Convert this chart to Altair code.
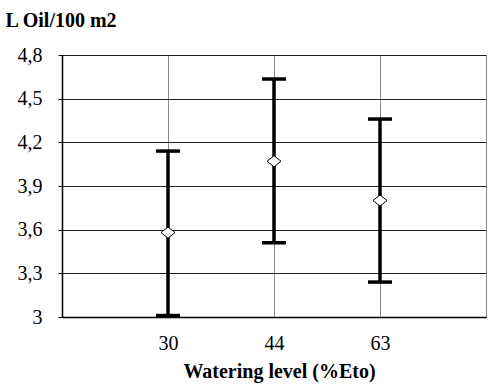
import altair as alt
import pandas as pd

levels = ["30", "44", "63"]
means = [3.58, 4.07, 3.80]
lows = [3.01, 3.51, 3.24]
highs = [4.14, 4.635, 4.36]
y_ticks = [3.0, 3.3, 3.6, 3.9, 4.2, 4.5, 4.8]

df = pd.DataFrame({
    "pos": list(range(1, len(levels) + 1)),
    "level": levels,
    "mean": means,
    "low": lows,
    "high": highs,
})

label_expr = "".join(
    f"datum.value == {i + 1} ? '{lv}' : " for i, lv in enumerate(levels)
) + "''"

FONT = "Liberation Serif"

x_scale = alt.Scale(domain=[0, len(levels) + 1], nice=False, zero=False)
y_scale = alt.Scale(domain=[3.0, 4.8], nice=False, zero=False)

x_axis = alt.Axis(
    values=list(range(0, len(levels) + 2)),
    labelExpr=label_expr,
    title="Watering level (%Eto)",
    titleFont=FONT, titleFontSize=20, titleFontWeight="bold", titleColor="black",
    titleX=217, titleY=60, titleBaseline="alphabetic", titleAnchor="middle",
    labelFont=FONT, labelFontSize=20, labelColor="black",
    labelBaseline="alphabetic", labelPadding=32,
    ticks=False, tickSize=0,
    domainColor="black", domainWidth=1.5,
    grid=True, gridColor="#888888", gridWidth=1,
)

y_axis = alt.Axis(
    values=y_ticks,
    labelExpr="replace(format(datum.value, '.1~f'), '.', ',')",
    title="L Oil/100 m2",
    titleFont=FONT, titleFontSize=20, titleFontWeight="bold", titleColor="black",
    titleAngle=0, titleX=-57, titleY=-29, titleAlign="left", titleBaseline="alphabetic",
    labelFont=FONT, labelFontSize=20, labelColor="black",
    labelPadding=16,
    ticks=True, tickSize=4, tickColor="black",
    domainColor="black", domainWidth=1.5,
    grid=True, gridColor="#222222", gridWidth=1,
)

base = alt.Chart(df)

bars = base.mark_rule(color="black", strokeWidth=3.5).encode(
    x=alt.X("pos:Q", scale=x_scale, axis=x_axis),
    y=alt.Y("low:Q", scale=y_scale, axis=y_axis),
    y2="high:Q",
)

caps_hi = base.mark_tick(orient="horizontal", color="black", size=24, thickness=3.5, opacity=1).encode(
    x=alt.X("pos:Q", scale=x_scale),
    y=alt.Y("high:Q", scale=y_scale),
)
caps_lo = base.mark_tick(orient="horizontal", color="black", size=24, thickness=3.5, opacity=1).encode(
    x=alt.X("pos:Q", scale=x_scale),
    y=alt.Y("low:Q", scale=y_scale),
)

points = base.mark_point(
    shape="M-1,0L0,-0.8L1,0L0,0.8Z", filled=True, fill="white",
    stroke="black", strokeWidth=1, size=196, opacity=1,
).encode(
    x=alt.X("pos:Q", scale=x_scale),
    y=alt.Y("mean:Q", scale=y_scale),
)

chart = alt.layer(bars, caps_hi, caps_lo, points).properties(
    width=424, height=262,
    autosize=alt.AutoSizeParams(type="none"),
    padding={"left": 62, "top": 55, "right": 2, "bottom": 70},
    background="white",
).configure_view(stroke=None).configure(font=FONT)

chart.save("out.html", embed_options={"renderer": "svg", "actions": False})
